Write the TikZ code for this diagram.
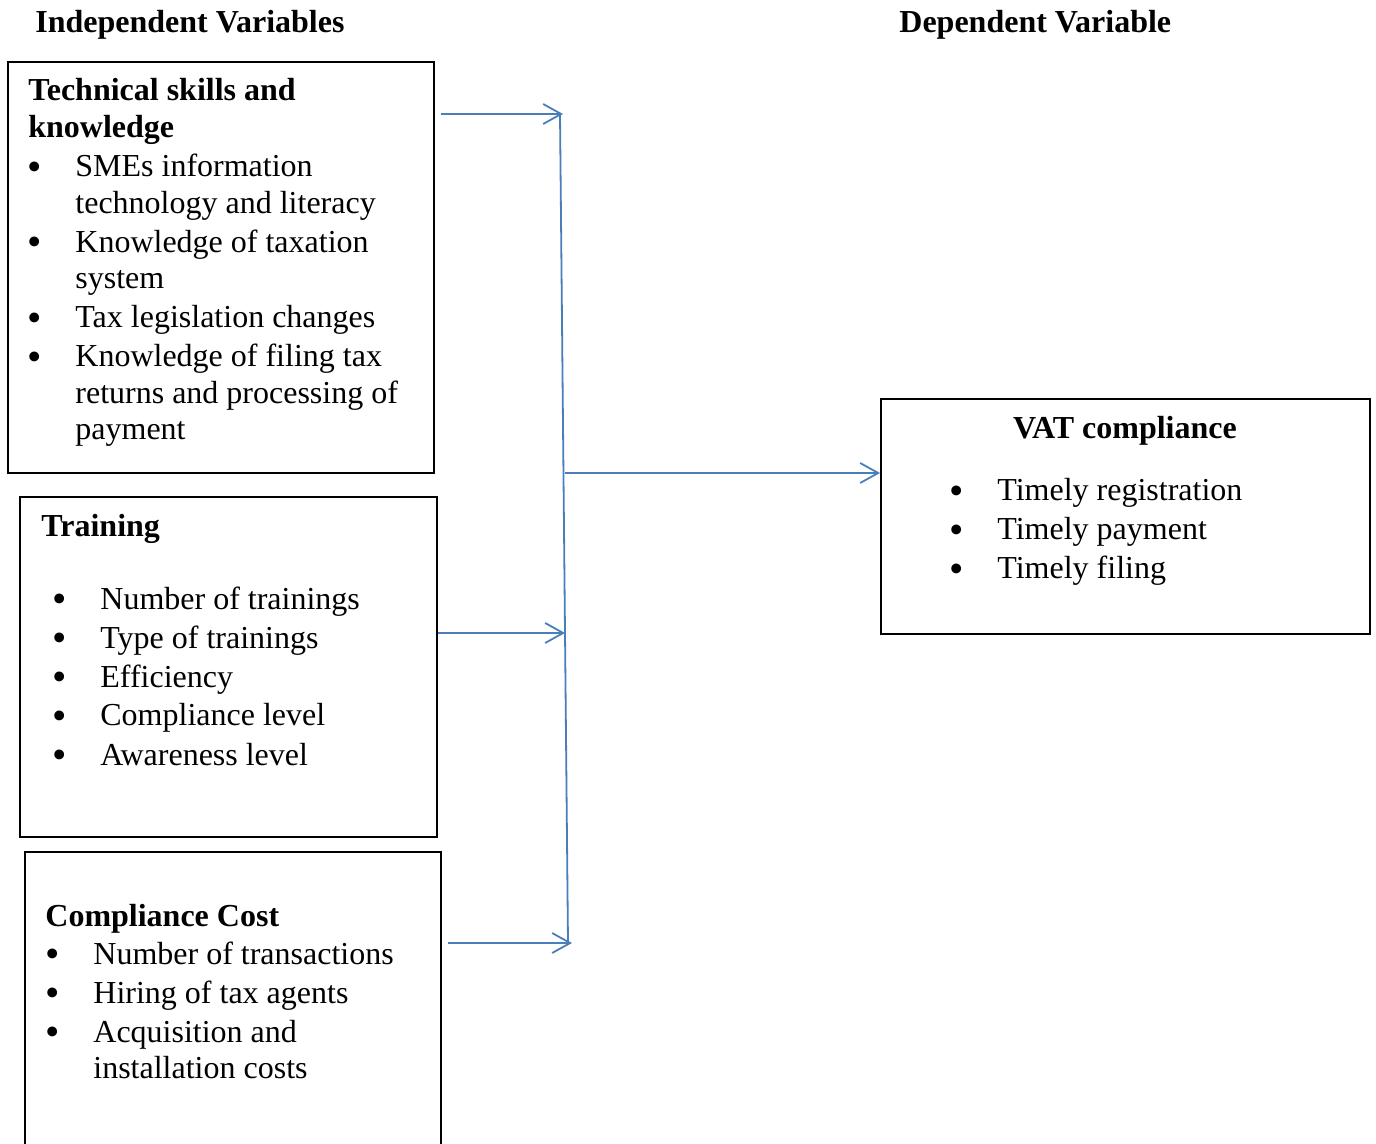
\documentclass[tikz,border=0pt]{standalone}
\usepackage{fontspec}
\setmainfont{Liberation Serif}
\usetikzlibrary{arrows.meta}
\definecolor{linkblue}{RGB}{74,126,187}
\newcommand\bl{\makebox[23pt][l]{\hspace*{-0.8pt}\raisebox{-1.7pt}{\fontsize{20.5}{0}\selectfont\textbullet}}}
\newcommand\cn{\hspace*{23pt}}
\begin{document}
\begin{tikzpicture}[x=0.5pt, y=-0.5pt, >={Straight Barb[length=9pt,width=10pt]},
  box/.style={draw, line width=1pt, anchor=north west, inner sep=0pt},
  txt/.style={anchor=base west, align=flush left, text width=235pt, inner sep=0pt, font=\fontsize{16}{18.25}\selectfont},
  link/.style={->, draw=linkblue, line width=0.9pt}]
\useasboundingbox (0,0) rectangle (1376,1144);
\node[txt] (hind) at (35,33) {\textbf{Independent Variables}};
\node[txt] (hdep) at (899,33) {\textbf{Dependent Variable}};
\node[box, minimum width=213pt, minimum height=205.5pt] (tech) at (7,61) {};
\node[box, minimum width=208.5pt, minimum height=170pt] (train) at (19,496) {};
\node[box, minimum width=208pt, minimum height=160pt] (cost) at (24,851) {};
\node[box, minimum width=244.5pt, minimum height=117.5pt] (vat) at (880,398) {};
% box texts
\node[txt] (techhd) at (28,101) {\textbf{Technical skills and}\\ \textbf{knowledge}};
\node[txt] (techls) at (29,177) {\bl SMEs information\\ \cn technology and literacy\\[1.25pt]
  \bl Knowledge of taxation\\ \cn system\\[1.25pt] \bl Tax legislation changes\\[1.25pt]
  \bl Knowledge of filing tax\\ \cn returns and processing of\\ \cn payment};
\node[txt] (trainhd) at (41,536) {\textbf{Training}};
\node[txt] (trainls) at (54,609) {\bl Number of trainings\\[1.25pt] \bl Type of trainings\\[1.25pt]
  \bl Efficiency\\[1.25pt] \bl Compliance level\\[1.25pt] \bl Awareness level};
\node[txt] (costhd) at (45,926) {\textbf{Compliance Cost}};
\node[txt] (costls) at (47,964) {\bl Number of transactions\\[1.25pt] \bl Hiring of tax agents\\[1.25pt]
  \bl Acquisition and\\ \cn installation costs};
\node[txt, text width=, align=flush center, anchor=base] (vathd) at (1125,438) {\textbf{VAT compliance}};
\node[txt] (vatls) at (951,501) {\bl Timely registration\\[1.25pt] \bl Timely payment\\[1.25pt] \bl Timely filing};
% connectors
\coordinate (jtop) at (560,114);
\coordinate (jbot) at (568,943);
\coordinate (jmid) at (565,473);
\coordinate (s1) at (441,114);
\coordinate (e1) at (563,114);
\coordinate (s2) at (438,633);
\coordinate (e2) at (565,633);
\coordinate (s3) at (448,943);
\coordinate (e3) at (572,943);
\draw[link] (s1) -- (e1);
\draw[link, -] (jtop) -- (jbot);
\draw[link] (s2) -- (e2);
\draw[link] (s3) -- (e3);
\draw[link] (jmid) -- (vat.west |- jmid);
\end{tikzpicture}
\end{document}
